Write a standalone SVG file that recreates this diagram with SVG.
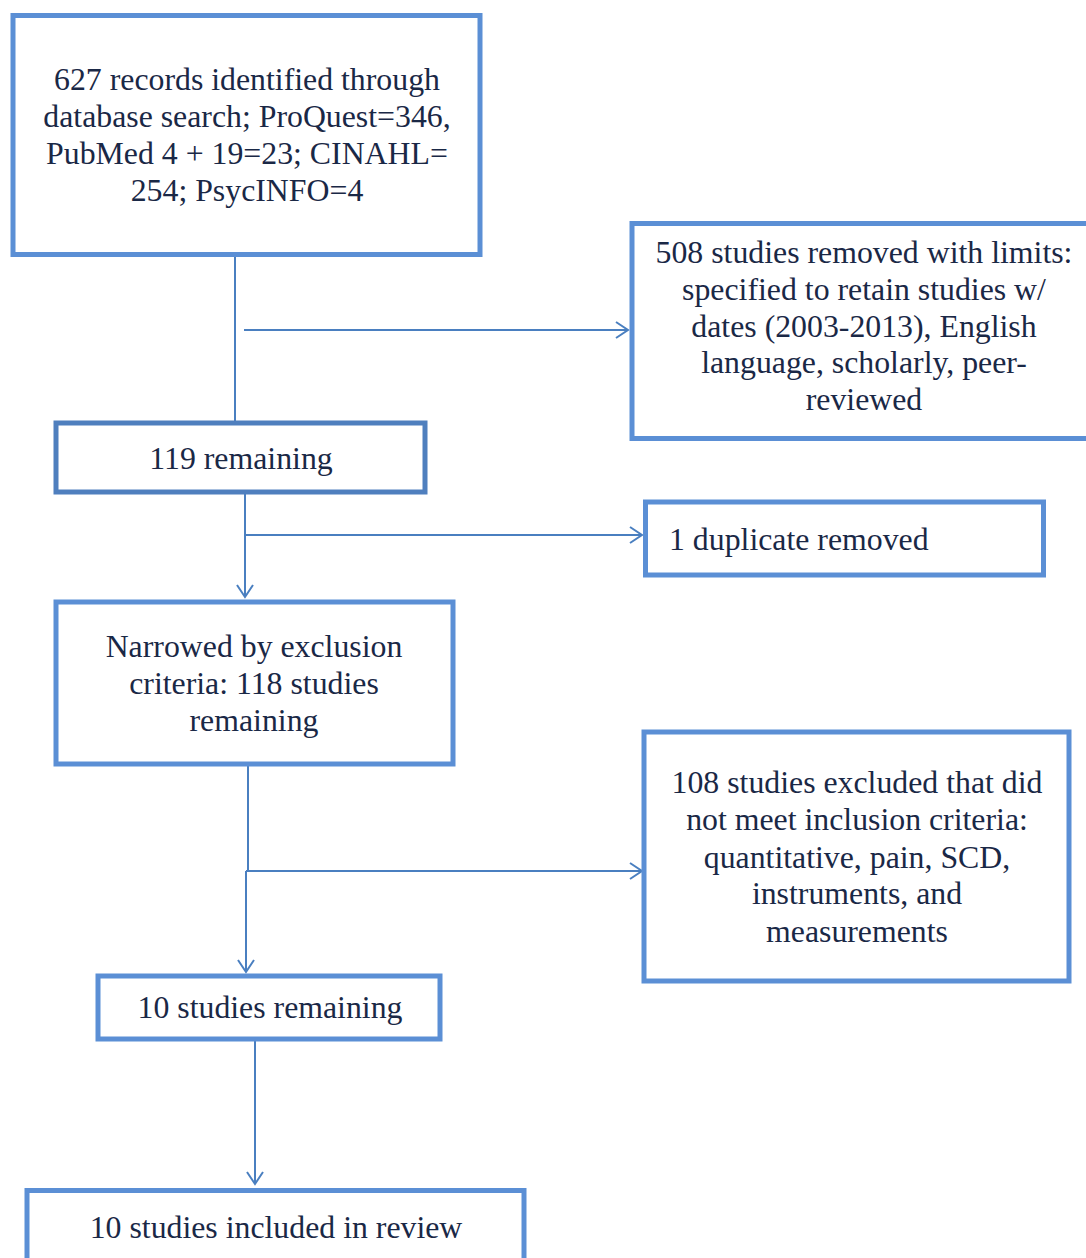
<svg xmlns="http://www.w3.org/2000/svg" width="1086" height="1258" viewBox="0 0 1086 1258">
<defs>
<style>
.box{fill:#ffffff;stroke:#5B8FD5;stroke-width:5}
.box2{fill:#ffffff;stroke:#4F7FBE;stroke-width:5}
.ln{fill:none;stroke:#4A7FC0;stroke-width:2}
.t{font-family:"Liberation Serif","Times New Roman",serif;font-size:31.8px;fill:#1A2846;text-anchor:middle}
.tl{font-family:"Liberation Serif","Times New Roman",serif;font-size:31.8px;fill:#1A2846;text-anchor:start}
</style>
<marker id="arr" markerUnits="userSpaceOnUse" markerWidth="16" markerHeight="20" refX="13" refY="9" orient="auto">
<path d="M1,1 L13,9 L1,17" fill="none" stroke="#4A7FC0" stroke-width="2"/>
</marker>
</defs>
<rect width="1086" height="1258" fill="#ffffff"/>
<g id="connectors">
<line class="ln" x1="235" y1="256" x2="235" y2="421"/>
<line class="ln" x1="244" y1="330" x2="628" y2="330" marker-end="url(#arr)"/>
<line class="ln" x1="245" y1="493" x2="245" y2="597" marker-end="url(#arr)"/>
<line class="ln" x1="245" y1="535" x2="642" y2="535" marker-end="url(#arr)"/>
<line class="ln" x1="248" y1="765" x2="248" y2="871"/>
<line class="ln" x1="246" y1="871" x2="246" y2="972" marker-end="url(#arr)"/>
<line class="ln" x1="246" y1="871" x2="642" y2="871" marker-end="url(#arr)"/>
<line class="ln" x1="255" y1="1040" x2="255" y2="1184" marker-end="url(#arr)"/>
</g>
<g id="n1">
<rect class="box" x="13" y="15.5" width="467" height="239"/>
<text class="t" x="247" y="90">627 records identified through</text>
<text class="t" x="247" y="127">database search; ProQuest=346,</text>
<text class="t" x="247" y="164">PubMed 4 + 19=23; CINAHL=</text>
<text class="t" x="247" y="201">254; PsycINFO=4</text>
</g>
<g id="n2">
<rect class="box" x="632" y="223.5" width="470" height="215"/>
<text class="t" x="864" y="263">508 studies removed with limits:</text>
<text class="t" x="864" y="300">specified to retain studies w/</text>
<text class="t" x="864" y="337">dates (2003-2013), English</text>
<text class="t" x="864" y="373">language, scholarly, peer-</text>
<text class="t" x="864" y="410">reviewed</text>
</g>
<g id="n3">
<rect class="box2" x="56" y="423" width="369" height="69"/>
<text class="t" x="241" y="469">119 remaining</text>
</g>
<g id="n4">
<rect class="box" x="645.5" y="502" width="398" height="73"/>
<text class="tl" x="669" y="550">1 duplicate removed</text>
</g>
<g id="n5">
<rect class="box" x="56" y="602" width="397" height="162"/>
<text class="t" x="254" y="657">Narrowed by exclusion</text>
<text class="t" x="254" y="694">criteria: 118 studies</text>
<text class="t" x="254" y="731">remaining</text>
</g>
<g id="n6">
<rect class="box" x="644" y="732" width="425" height="249"/>
<text class="t" x="857" y="793">108 studies excluded that did</text>
<text class="t" x="857" y="830">not meet inclusion criteria:</text>
<text class="t" x="857" y="868">quantitative, pain, SCD,</text>
<text class="t" x="857" y="904">instruments, and</text>
<text class="t" x="857" y="942">measurements</text>
</g>
<g id="n7">
<rect class="box" x="98" y="976" width="342" height="63"/>
<text class="t" x="270" y="1018">10 studies remaining</text>
</g>
<g id="n8">
<rect class="box" x="27" y="1190.5" width="497" height="80"/>
<text class="t" x="276" y="1238">10 studies included in review</text>
</g>
</svg>
